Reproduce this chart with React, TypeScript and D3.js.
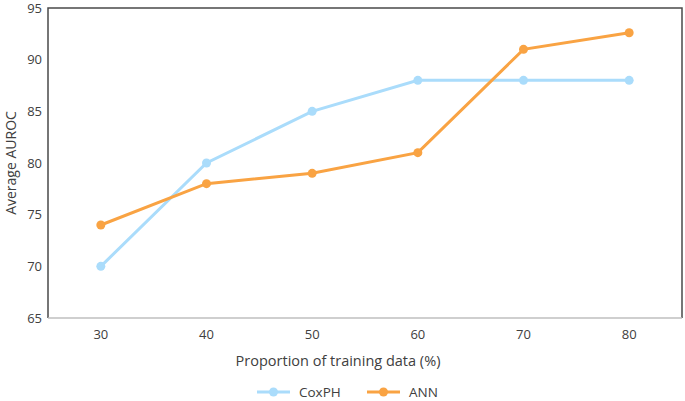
import { useEffect, useRef } from 'react'
import * as d3 from 'd3'

const categories = ['30', '40', '50', '60', '70', '80']
const coxph = [70, 80, 85, 88, 88, 88]
const ann = [74, 78, 79, 81, 91, 92.6]
const yTicks = [65, 70, 75, 80, 85, 90, 95]

const series = [
  { name: 'CoxPH', values: coxph, color: '#aadcfb' },
  { name: 'ANN', values: ann, color: '#f9a343' },
]

export default function App() {
  const svgRef = useRef<SVGSVGElement | null>(null)

  useEffect(() => {
    if (!svgRef.current) return
    const svg = d3.select(svgRef.current)
    svg.selectAll('*').remove()

    const W = 685
    const H = 401
    const margin = { top: 8, right: 3, bottom: 83, left: 48 }
    const width = W - margin.left - margin.right
    const height = H - margin.top - margin.bottom
    const font = '"Open Sans", sans-serif'

    const g = svg.append('g').attr('transform', `translate(${margin.left},${margin.top})`)

    const x = d3.scaleBand().domain(categories).range([0, width])
    const y = d3.scaleLinear().domain([65, 95]).range([height, 0])
    const cx = (c: string) => (x(c) || 0) + x.bandwidth() / 2

    // frame: left/top/right dark, bottom light
    g.append('path')
      .attr('d', `M0,${height}V0H${width}V${height}`)
      .attr('fill', 'none')
      .attr('stroke', '#4a4a4a')
      .attr('stroke-width', 1.5)
    g.append('line')
      .attr('x1', 0)
      .attr('x2', width)
      .attr('y1', height)
      .attr('y2', height)
      .attr('stroke', '#bfbfbf')
      .attr('stroke-width', 1.5)

    // y tick labels
    g.selectAll('.ytick')
      .data(yTicks)
      .enter()
      .append('text')
      .attr('x', -6)
      .attr('y', (d) => y(d))
      .attr('dy', '0.35em')
      .attr('text-anchor', 'end')
      .style('font-family', font)
      .style('font-size', '13px')
      .attr('fill', '#404040')
      .text((d) => d)

    // x tick labels
    g.selectAll('.xtick')
      .data(categories)
      .enter()
      .append('text')
      .attr('x', (d) => cx(d))
      .attr('y', height + 21)
      .attr('text-anchor', 'middle')
      .style('font-family', font)
      .style('font-size', '13px')
      .attr('fill', '#404040')
      .text((d) => d)

    // axis titles
    g.append('text')
      .attr('transform', `translate(${-32},${height / 2}) rotate(-90)`)
      .attr('text-anchor', 'middle')
      .style('font-family', font)
      .style('font-size', '14px')
      .attr('fill', '#404040')
      .text('Average AUROC')

    g.append('text')
      .attr('x', width / 2 - 27)
      .attr('y', height + 48)
      .attr('text-anchor', 'middle')
      .style('font-family', font)
      .style('font-size', '14.5px')
      .attr('fill', '#404040')
      .text('Proportion of training data (%)')

    const line = d3
      .line<number>()
      .x((_, i) => cx(categories[i]))
      .y((d) => y(d))

    series.forEach((s) => {
      g.append('path')
        .datum(s.values)
        .attr('fill', 'none')
        .attr('stroke', s.color)
        .attr('stroke-width', 3)
        .attr('d', line)
      g.selectAll(`.pt-${s.name}`)
        .data(s.values)
        .enter()
        .append('circle')
        .attr('cx', (_, i) => cx(categories[i]))
        .attr('cy', (d) => y(d))
        .attr('r', 4.5)
        .attr('fill', s.color)
    })

    // legend
    const legendX = [257, 367]
    series.forEach((s, i) => {
      const lg = svg.append('g').attr('transform', `translate(${legendX[i]},${392})`)
      lg.append('line').attr('x1', 0).attr('x2', 33).attr('stroke', s.color).attr('stroke-width', 3)
      lg.append('circle').attr('cx', 16.5).attr('r', 4.5).attr('fill', s.color)
      lg.append('text')
        .attr('x', 42)
        .attr('dy', '0.35em')
        .style('font-family', font)
        .style('font-size', '13.5px')
        .attr('fill', '#404040')
        .text(s.name)
    })
  }, [])

  return (
    <div style={{ position: 'absolute', left: 0, top: 0 }}>
      <svg ref={svgRef} width={685} height={401} style={{ display: 'block' }}></svg>
    </div>
  )
}
